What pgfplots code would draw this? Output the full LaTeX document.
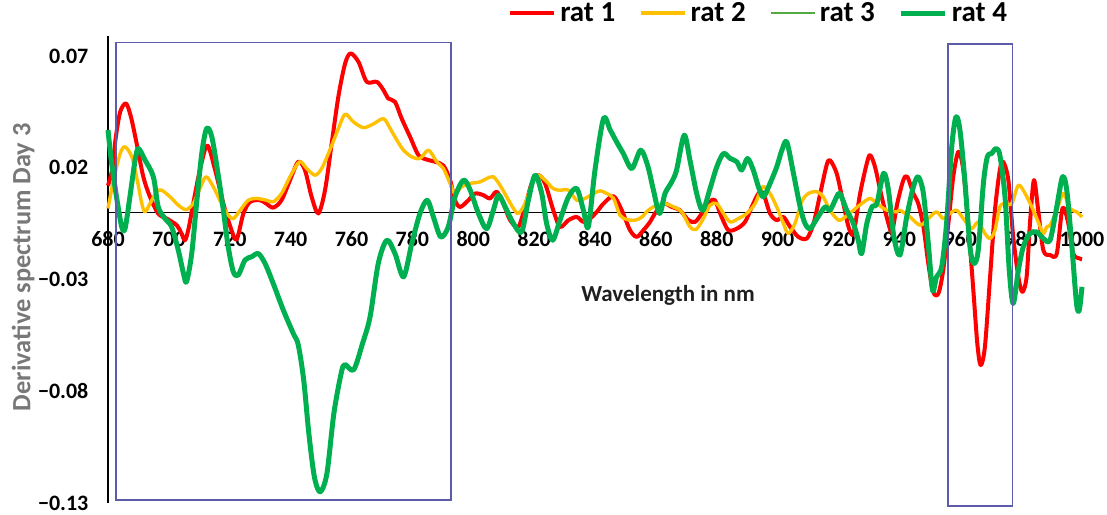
\documentclass[border=0pt]{standalone}
\usepackage{fontspec}
\setmainfont{Carlito}
\usepackage{pgfplots}
\usepackage{pgfplotstable}
\pgfplotsset{compat=1.18}
\definecolor{ratred}{RGB}{255,0,0}
\definecolor{ratyellow}{RGB}{255,192,0}
\definecolor{ratgreen}{RGB}{0,176,80}
\definecolor{ratgreenthin}{RGB}{84,168,64}
\definecolor{boxblue}{RGB}{92,92,170}
\definecolor{labelgray}{RGB}{120,120,120}

\pgfplotstableread{
x y
680.0 0.012
681.5 0.020
682.5 0.033
684.0 0.045
685.9 0.0488
687.5 0.043
689.4 0.031
691.6 0.016
693.8 0.007
696.5 -0.0005
699.3 -0.0027
702.6 -0.0057
704.0 -0.009
705.3 -0.0124
706.5 -0.007
708.0 0.004
710.2 0.019
712.6 0.030
715.2 0.019
717.9 0.004
720.6 -0.008
722.3 -0.012
724.5 -0.0004
726.7 0.0048
730.0 0.0055
732.0 0.004
734.3 0.0022
737.0 0.0055
739.8 0.0145
742.5 0.0227
744.7 0.019
746.9 0.007
749.1 -0.0004
751.3 0.010
753.5 0.031
755.7 0.052
757.9 0.0667
759.7 0.0712
762.3 0.0674
765.0 0.0585
768.3 0.0585
770.5 0.0548
772.1 0.051
774.3 0.0495
776.5 0.042
779.2 0.034
782.0 0.0257
784.7 0.0237
787.5 0.0227
790.2 0.021
792.4 0.0145
794.0 0.0055
795.7 0.0025
798.4 0.0055
800.6 0.0085
803.3 0.0078
805.5 0.0063
807.7 0.0093
809.9 0.004
812.1 -0.0034
814.8 -0.0064
817.0 0.0025
819.2 0.013
821.4 0.0167
823.6 0.013
826.3 0.001
828.5 -0.0064
831.3 -0.0034
834.0 -0.002
836.2 -0.0042
838.4 -0.0027
840.6 0.0003
842.8 0.004
846.1 0.0073
848.8 0.001
851.5 -0.0079
853.7 -0.0109
855.9 -0.0079
858.1 -0.0042
859.7 -0.0004
862.5 0.004
865.2 0.0025
867.9 0.001
870.7 -0.0034
872.9 -0.0042
875.1 -0.0004
877.8 0.0048
879.4 0.0055
881.6 -0.002
883.8 -0.0079
886.6 -0.0072
889.3 -0.0042
891.5 0.0025
893.7 0.0085
895.3 0.0085
897.5 -0.0004
899.7 -0.0034
901.9 -0.002
904.1 -0.0064
906.8 -0.0109
909.6 -0.0116
911.8 -0.0049
914.0 0.0085
916.1 0.0212
917.2 0.0234
919.4 0.0175
921.6 0.004
923.3 -0.0064
924.9 -0.0094
927.1 0.0085
929.3 0.022
930.4 0.0257
932.0 0.0204
934.2 0.007
936.4 -0.0049
937.6 -0.0085
939.3 0.004
941.3 0.0145
942.6 0.016
944.6 0.0085
946.2 0.004
947.9 -0.0064
949.5 -0.0228
951.1 -0.0355
952.8 -0.0363
954.4 -0.0258
956.1 -0.0049
957.7 0.016
959.4 0.0272
961.0 0.019
962.6 -0.0049
964.3 -0.0348
965.6 -0.0586
966.7 -0.0683
968.1 -0.0601
969.8 -0.0288
971.4 0.001
973.0 0.019
974.1 0.0227
975.8 0.0145
977.4 -0.0109
979.1 -0.0288
980.4 -0.0355
981.8 -0.0288
982.9 -0.0049
984.2 0.0145
985.6 0.001
987.3 -0.0169
989.5 -0.019
991.7 -0.0184
993.6 0.002
995.5 -0.0049
997.1 -0.0184
999.3 -0.0206
1000.0 -0.021
}\ratone

\pgfplotstableread{
x y
680.0 0.0018
681.8 0.0145
684.0 0.0264
685.6 0.0294
687.8 0.025
689.4 0.016
691.1 0.004
692.2 0.0003
693.8 0.004
696.0 0.0093
697.6 0.010
700.4 0.007
703.1 0.0033
705.6 0.0013
708.0 0.004
710.2 0.0107
712.2 0.016
714.6 0.0115
717.3 0.004
719.5 -0.0012
721.2 -0.0027
723.4 0.001
726.1 0.0055
728.8 0.0063
732.1 0.0055
734.3 0.0048
737.0 0.0085
739.8 0.016
742.9 0.0227
745.3 0.0197
748.0 0.0167
750.2 0.0197
752.9 0.028
755.7 0.0376
757.9 0.044
760.6 0.0406
763.9 0.038
767.0 0.0395
770.5 0.042
772.7 0.0376
774.9 0.0324
777.1 0.0279
779.8 0.0249
782.5 0.0242
785.3 0.0279
788.0 0.0227
790.2 0.0197
792.4 0.013
794.0 0.0085
796.2 0.0115
798.9 0.013
802.2 0.0137
804.4 0.0152
806.6 0.016
808.8 0.0122
811.0 0.007
813.2 0.0018
814.8 -0.0004
817.0 0.004
819.8 0.0145
821.4 0.0167
823.6 0.0145
826.3 0.0107
828.5 0.010
831.3 0.010
834.0 0.0055
836.7 0.0063
839.5 0.0085
841.7 0.0097
843.9 0.0085
846.1 0.0063
848.2 -0.0012
850.4 -0.0031
853.2 -0.0034
855.4 -0.002
857.5 0.001
860.3 0.0033
863.0 0.004
865.8 0.0025
868.5 0.0003
871.2 -0.0064
873.2 -0.0076
875.6 -0.0027
877.8 0.0033
880.0 0.004
882.2 -0.0004
884.4 -0.0042
887.1 -0.0027
889.9 -0.0004
892.6 0.004
895.1 0.0115
897.5 0.0085
899.7 0.0025
901.9 -0.0049
903.5 -0.0094
905.7 -0.0049
907.9 0.0048
910.1 0.0085
912.9 0.0093
915.0 0.007
917.2 0.001
920.0 -0.0034
922.2 -0.002
924.9 0.001
927.6 0.004
930.4 0.0063
932.6 0.004
935.9 0.001
939.1 0.0003
940.2 0.001
943.5 -0.002
946.8 -0.0057
949.5 -0.0027
952.2 0.0003
954.4 -0.0027
956.6 -0.0004
958.8 0.001
961.0 -0.0027
963.7 -0.0072
965.9 -0.0042
968.1 -0.0094
969.8 -0.0116
971.4 -0.0079
973.0 0.0025
974.7 0.004
976.9 0.004
979.1 0.0122
981.3 0.0085
983.5 0.0025
985.6 -0.0042
987.3 -0.0094
988.4 -0.0064
989.5 -0.0057
991.7 0.001
993.9 0.0085
996.0 0.0018
998.2 0.0003
1000.0 -0.002
}\rattwo

\pgfplotstableread{
x y
680.0 0.0369
681.2 0.022
682.8 0.007
684.5 -0.0064
685.6 -0.0072
687.2 0.007
688.9 0.0234
690.0 0.0286
692.2 0.0234
694.9 0.016
696.5 0.0025
698.7 -0.0027
700.9 -0.0064
703.1 -0.0169
704.8 -0.0273
705.8 -0.031
707.5 -0.0184
709.1 0.004
710.8 0.0264
712.4 0.0376
714.1 0.0339
716.3 0.016
717.9 0.001
719.5 -0.0154
721.2 -0.0266
722.8 -0.028
725.0 -0.0213
727.2 -0.0198
729.4 -0.0184
731.6 -0.0228
734.3 -0.0318
737.6 -0.0437
740.9 -0.0542
742.5 -0.0592
744.3 -0.075
746.0 -0.099
747.8 -0.1183
749.7 -0.125
751.9 -0.117
754.2 -0.090
756.6 -0.072
757.8 -0.068
760.7 -0.0704
763.6 -0.0587
766.1 -0.0467
768.8 -0.0228
771.6 -0.0124
774.3 -0.0184
777.1 -0.0288
779.8 -0.0139
782.5 -0.0004
784.9 0.0055
786.9 -0.0019
789.3 -0.0109
791.8 -0.0064
794.0 0.007
796.8 0.0145
799.0 0.010
801.7 -0.0004
804.4 -0.0072
806.6 0.001
808.3 0.0078
810.5 0.0025
813.2 -0.0049
815.9 -0.0087
818.1 0.0055
820.3 0.0167
822.5 0.0085
824.1 -0.0049
826.1 -0.0124
828.5 -0.0034
831.3 0.007
834.0 0.0107
836.2 0.001
837.8 -0.0064
840.0 0.019
842.8 0.042
845.0 0.0369
847.1 0.0316
849.3 0.0264
852.1 0.0197
855.0 0.0279
857.3 0.021
859.2 0.010
861.2 -0.0004
863.0 0.0085
865.2 0.0137
866.8 0.019
869.3 0.0346
871.2 0.0234
873.4 0.0085
875.4 0.001
877.8 0.0107
880.0 0.0204
882.2 0.0264
884.4 0.0242
886.6 0.0227
888.2 0.019
890.1 0.0242
892.0 0.019
893.7 0.0115
895.3 0.007
897.5 0.013
899.7 0.0204
901.4 0.0279
903.0 0.0316
905.2 0.0175
907.4 0.0025
909.0 -0.0049
910.7 -0.0072
912.9 -0.0027
915.6 0.0025
917.2 0.001
919.4 0.007
920.5 0.0085
922.7 0.001
924.9 -0.0049
926.5 -0.0124
927.6 -0.0184
929.3 -0.0049
931.0 0.0025
932.6 0.004
934.8 0.0175
936.4 0.010
938.2 -0.0109
940.2 -0.019
942.4 -0.002
944.6 0.0115
946.2 0.016
947.9 0.0085
949.5 -0.0139
950.9 -0.0348
952.2 -0.0288
953.9 -0.0243
955.5 -0.0049
957.2 0.0294
958.6 0.0428
959.9 0.0369
961.5 0.0145
963.2 -0.0154
964.5 -0.0228
965.9 -0.0169
967.6 0.013
968.9 0.0249
970.3 0.0264
971.7 0.0286
973.0 0.0257
974.7 0.007
976.1 -0.0258
977.4 -0.0407
979.1 -0.0258
980.7 -0.0154
982.9 -0.0094
985.1 -0.0087
987.3 -0.0116
989.5 -0.0124
991.7 0.0025
993.6 0.016
995.0 0.010
996.6 -0.0139
998.2 -0.0407
999.1 -0.0437
1000.0 -0.0333
}\ratfour

\begin{document}
\begin{tikzpicture}
\path[use as bounding box] (-54pt,-5.5pt) rectangle (499.5pt,251.5pt);
\begin{axis}[
  scale only axis, width=487pt, height=233.5pt,
  xmin=680, xmax=1000, ymin=-0.13, ymax=0.079,
  axis x line=middle, axis y line=left,
  axis line style={-, black, line width=0.6pt},
  hide obscured x ticks=false,
  xtick={680,700,720,740,760,780,800,820,840,860,880,900,920,940,960,980,1000},
  xticklabels={680,700,720,740,760,780,800,820,840,860,880,900,920,940,960,980,1000},
  ytick={-0.13,-0.08,-0.03,0.02,0.07},
  yticklabels={−0.13,−0.08,−0.03,0.02,0.07},
  major tick length=0pt,
  tick label style={font=\fontsize{11}{12}\selectfont\bfseries, text=black},
  xticklabel style={yshift=-6pt},
  yticklabel style={xshift=-6.3pt},
  xlabel={Wavelength in nm},
  xlabel style={at={(axis description cs:0.575,0.445)}, anchor=center, font=\fontsize{11.5}{13}\selectfont\bfseries, text={black!88}},
  ylabel={Derivative spectrum Day 3},
  ylabel style={at={(axis description cs:-0.087,0.505)}, anchor=center, font=\fontsize{13.2}{15}\selectfont\bfseries, text=labelgray},
  clip=false,
  legend columns=4,
  legend style={draw=none, fill=none, at={(axis description cs:0.669,1.049)}, anchor=center,
    font=\fontsize{14.5}{16}\selectfont\bfseries,
    /tikz/every even column/.append style={column sep=10pt}},
  legend image code/.code={\draw[#1] (0pt,0pt) -- (22pt,0pt);},
]
\addplot[ratred, line width=2pt, smooth, tension=0.5, line join=round] table[x=x,y=y] {\ratone};
\addlegendentry{rat 1}
\addplot[ratyellow, line width=1.7pt, smooth, tension=0.5, line join=round] table[x=x,y=y] {\rattwo};
\addlegendentry{rat 2}
\addplot[ratgreenthin, line width=1.1pt, smooth, tension=0.5, line join=round] table[x=x,y=y] {\ratfour};
\addlegendentry{rat 3}
\addplot[ratgreen, line width=2.5pt, smooth, tension=0.5, line join=round] table[x=x,y=y] {\ratfour};
\addlegendentry{rat 4}
\draw[boxblue, line width=0.7pt] (axis cs:682.6,-0.1286) rectangle (axis cs:792.7,0.0760);
\draw[boxblue, line width=0.7pt] (axis cs:956.0,-0.1313) rectangle (axis cs:977.1,0.0754);
\end{axis}
\end{tikzpicture}
\end{document}
